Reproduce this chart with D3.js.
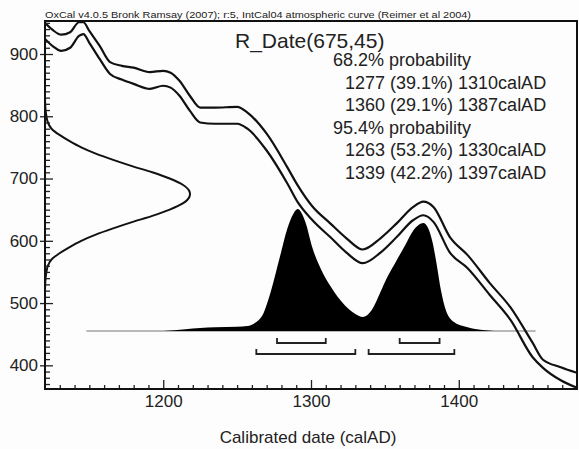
<!DOCTYPE html>
<html><head><meta charset="utf-8">
<script src="https://cdn.jsdelivr.net/npm/d3@7"></script>
<style>
html,body{margin:0;padding:0;background:#fff;}
svg{display:block;}
text{font-family:"Liberation Sans",Arial,Helvetica,sans-serif;fill:#222;}
</style></head>
<body>
<svg id="c" width="579" height="449"></svg>
<script>
// ---- data ----
const titleText = "OxCal v4.0.5 Bronk Ramsay (2007); r:5, IntCal04 atmospheric curve (Reimer et al 2004)";
const dateName = "R_Date(675,45)";
const summaryLines = [
  {t:"68.2% probability", indent:0},
  {t:"1277 (39.1%) 1310calAD", indent:1},
  {t:"1360 (29.1%) 1387calAD", indent:1},
  {t:"95.4% probability", indent:0},
  {t:"1263 (53.2%) 1330calAD", indent:1},
  {t:"1339 (42.2%) 1397calAD", indent:1}
];
const xLabel = "Calibrated date (calAD)";
const xMajorTicks = [1200, 1300, 1400];
const yMajorTicks = [400, 500, 600, 700, 800, 900];

// calibration curve (IntCal04), upper and lower 1-sigma lines
const calYears = [1120,1125,1131,1137,1143,1146,1150,1157,1164,1172,1180,1191,1200,1205,1211,1218,1225,1235,1250,1257,1270,1284,1291,1301,1313,1324,1335,1347,1358,1369,1376,1383,1394,1406,1421,1435,1450,1457,1469,1480];
const calUpper = [950,939,931,935,951,951,937,913,887,881,878,871,873,870,857,833,814,814,815,806,772,718,689,655,628,604,586,604,628,654,663,654,606,577,532,493,436,409,397,388];
const calLower = [924,913,905,910,929,932,918,892,868,859,852,844,849,846,833,809,790,788,788,780,745,692,662,633,606,581,564,581,606,633,641,630,581,556,513,473,413,396,376,364];

// radiocarbon measurement distribution (BP, relative density)
const rdBP   = [830,810,800,790,780,770,760,750,740,730,720,710,700,690,680,675,670,660,650,640,630,620,610,600,590,580,570,560,550,540,520];
const rdProb = [0,0.004,0.01,0.02,0.045,0.10,0.17,0.25,0.35,0.47,0.60,0.74,0.86,0.95,0.995,1,0.995,0.95,0.86,0.74,0.60,0.47,0.35,0.25,0.17,0.10,0.045,0.02,0.01,0.004,0];

// calibrated posterior (calAD, relative probability)
const postYears = [1200,1215,1225,1235,1250,1257,1262,1268,1272,1279,1284,1288,1291,1296,1301,1307,1313,1318,1323,1330,1335,1341,1347,1352,1358,1364,1369,1373,1376,1379,1382,1385,1388,1391,1396,1406,1416,1424];
const postProb  = [0,0.015,0.025,0.03,0.035,0.04,0.065,0.15,0.29,0.61,0.84,0.96,1.0,0.9,0.68,0.5,0.37,0.28,0.21,0.14,0.115,0.17,0.32,0.45,0.58,0.71,0.82,0.87,0.885,0.85,0.74,0.55,0.33,0.18,0.08,0.03,0.008,0];
const postBaseline = [1148, 1452];

// highest probability ranges
const range68 = [[1277,1310],[1360,1387]];
const range95 = [[1263,1330],[1339,1397]];

// ---- drawing ----
const svg = d3.select("#c");
const L = 45, R = 577, T = 21, B = 389;
const x = d3.scaleLinear().domain([1120, 1480]).range([L, R]);
const y = d3.scaleLinear().domain([362, 953]).range([B, T]);
const gx = d3.scaleLinear().domain([0, 1]).range([L, 190]);
const py = d3.scaleLinear().domain([0, 1]).range([331, 209]);

svg.append("rect").attr("width",579).attr("height",449).attr("fill","#fdfdfd");

svg.append("defs").append("clipPath").attr("id","clip")
  .append("rect").attr("x",L).attr("y",T).attr("width",R-L).attr("height",B-T);

const g = svg.append("g").attr("clip-path","url(#clip)");

// posterior baseline
g.append("line").attr("x1",x(postBaseline[0])).attr("x2",x(postBaseline[1]))
  .attr("y1",py(0)).attr("y2",py(0)).attr("stroke","#777").attr("stroke-width",1.2);

// posterior fill
const post = postYears.map((d,i)=>({yr:d,p:postProb[i]}));
g.append("path").datum(post)
  .attr("d", d3.area().x(d=>x(d.yr)).y0(py(0)).y1(d=>py(d.p)).curve(d3.curveMonotoneX))
  .attr("fill","#000");

// radiocarbon distribution
const rd = rdBP.map((d,i)=>({bp:d,p:rdProb[i]}));
g.append("path").datum(rd)
  .attr("d", d3.line().x(d=>gx(d.p)).y(d=>y(d.bp)).curve(d3.curveMonotoneY))
  .attr("fill","none").attr("stroke","#111").attr("stroke-width",2);

// calibration curve
[calUpper, calLower].forEach(arr=>{
  const pts = calYears.map((d,i)=>({yr:d,bp:arr[i]}));
  g.append("path").datum(pts)
    .attr("d", d3.line().x(d=>x(d.yr)).y(d=>y(d.bp)).curve(d3.curveMonotoneX))
    .attr("fill","none").attr("stroke","#111").attr("stroke-width",2.2);
});

// range brackets
function brackets(ranges, yy){
  ranges.forEach(r=>{
    const p = d3.path();
    p.moveTo(x(r[0]), yy-5); p.lineTo(x(r[0]), yy); p.lineTo(x(r[1]), yy); p.lineTo(x(r[1]), yy-5);
    svg.append("path").attr("d",p.toString()).attr("fill","none").attr("stroke","#222").attr("stroke-width",1.8);
  });
}
brackets(range68, 343);
brackets(range95, 354);

// axes
const minorX = d3.range(1130, 1480, 10).filter(v=>!xMajorTicks.includes(v));
const minorY = d3.range(370, 960, 10).filter(v=>!yMajorTicks.includes(v));

const ax = svg.append("g").attr("transform",`translate(0,${B})`);
ax.call(d3.axisBottom(x).tickValues(minorX).tickSize(-4).tickFormat(""));
ax.append("g").call(d3.axisBottom(x).tickValues(xMajorTicks).tickSize(-9).tickPadding(6).tickFormat(d3.format("d")));
ax.selectAll("path.domain").remove();
ax.selectAll("line").attr("stroke","#222").attr("stroke-width",1.3);
ax.selectAll("text").attr("font-size",17).attr("fill","#222").style("font-family","'Liberation Sans',Arial,sans-serif");

const ay = svg.append("g").attr("transform",`translate(${L},0)`);
ay.call(d3.axisLeft(y).tickValues(minorY).tickSize(-5).tickFormat(""));
ay.append("g").call(d3.axisLeft(y).tickValues(yMajorTicks).tickSize(5).tickPadding(2).tickFormat(d3.format("d")));
ay.append("g").call(d3.axisLeft(y).tickValues(yMajorTicks).tickSize(-8).tickFormat(""));
ay.selectAll("path.domain").remove();
ay.selectAll("line").attr("stroke","#222").attr("stroke-width",1.3);
ay.selectAll("text").attr("font-size",17).attr("fill","#222").style("font-family","'Liberation Sans',Arial,sans-serif");

// frame
svg.append("rect").attr("x",L).attr("y",T).attr("width",R-L).attr("height",B-T)
  .attr("fill","none").attr("stroke","#111").attr("stroke-width",2);

// title
svg.append("text").attr("x",L).attr("y",T-3).attr("font-size",9.5)
  .attr("textLength",426).attr("lengthAdjust","spacingAndGlyphs").text(titleText);

// axis label
svg.append("text").attr("x",(x(1120)+x(1480))/2 - 3).attr("y",443).attr("text-anchor","middle")
  .attr("font-size",17).text(xLabel);

// summary text
svg.append("text").attr("x",235).attr("y",48).attr("font-size",21).text(dateName);
summaryLines.forEach((d,i)=>{
  svg.append("text").attr("x", d.indent ? 345 : 333).attr("y", 66 + i*22.6)
    .attr("font-size",18).text(d.t);
});
</script>
</body></html>
